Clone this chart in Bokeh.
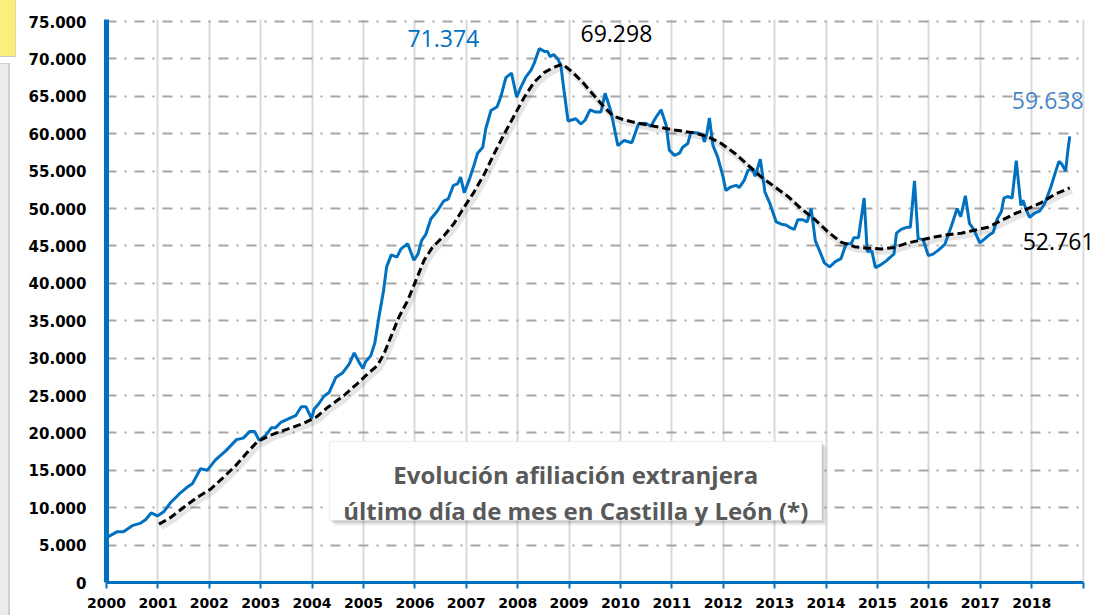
from bokeh.plotting import figure
from bokeh.layouts import row
from bokeh.models import Range1d, FixedTicker, Label, BoxAnnotation, Div
from bokeh.embed import file_html
from bokeh.resources import INLINE

# ---- data ----
# Monthly foreign affiliation, last day of month (time in fractional years)
blue_t = [2000.00, 2000.21, 2000.33, 2000.50, 2000.65, 2000.76, 2000.87, 2000.99,
          2001.12, 2001.25, 2001.41, 2001.56, 2001.67, 2001.83, 2001.96,
          2002.12, 2002.32, 2002.53, 2002.66, 2002.79, 2002.88, 2002.97,
          2003.10, 2003.21, 2003.29, 2003.39, 2003.58, 2003.68, 2003.79, 2003.88, 2003.99,
          2004.04, 2004.13, 2004.23, 2004.33, 2004.46, 2004.59, 2004.72, 2004.82, 2004.91, 2004.99,
          2005.04, 2005.14, 2005.22, 2005.30, 2005.39, 2005.45, 2005.54, 2005.65, 2005.73, 2005.86, 2005.98,
          2006.06, 2006.13, 2006.21, 2006.31, 2006.44, 2006.56, 2006.65, 2006.75, 2006.83, 2006.89, 2006.96,
          2007.06, 2007.15, 2007.22, 2007.32, 2007.38, 2007.48, 2007.60, 2007.67, 2007.77, 2007.88, 2007.98,
          2008.06, 2008.16, 2008.26, 2008.32, 2008.42, 2008.52, 2008.58, 2008.63, 2008.70, 2008.78, 2008.84,
          2008.91, 2008.98,
          2009.13, 2009.23, 2009.31, 2009.41, 2009.52, 2009.62, 2009.70, 2009.81, 2009.95,
          2010.07, 2010.22, 2010.35, 2010.49, 2010.59, 2010.69, 2010.79, 2010.89, 2010.95,
          2011.05, 2011.15, 2011.21, 2011.31, 2011.37, 2011.50, 2011.60, 2011.63, 2011.68, 2011.73,
          2011.80, 2011.89, 2011.99,
          2012.05, 2012.15, 2012.25, 2012.31, 2012.41, 2012.48, 2012.57, 2012.62, 2012.72, 2012.81, 2012.90,
          2013.03, 2013.13, 2013.22, 2013.31, 2013.38, 2013.45, 2013.55, 2013.63, 2013.71, 2013.79,
          2013.87, 2013.97,
          2014.07, 2014.18, 2014.29, 2014.39, 2014.49, 2014.54, 2014.63, 2014.74, 2014.80, 2014.89, 2014.96,
          2015.07, 2015.17, 2015.25, 2015.32, 2015.37, 2015.46, 2015.58, 2015.64, 2015.72, 2015.79,
          2015.89, 2015.99,
          2016.08, 2016.18, 2016.31, 2016.44, 2016.55, 2016.62, 2016.71, 2016.79, 2016.88, 2016.99,
          2017.08, 2017.18, 2017.25, 2017.33, 2017.41, 2017.46, 2017.53, 2017.62, 2017.70, 2017.79,
          2017.83, 2017.88, 2017.96,
          2018.06, 2018.16, 2018.25, 2018.37, 2018.45, 2018.53, 2018.59, 2018.66, 2018.70, 2018.74]
blue_v = [6000, 6800, 6800, 7600, 7900, 8400, 9300, 8900,
          9500, 10700, 11800, 12700, 13200, 15200, 15000,
          16400, 17600, 19100, 19300, 20200, 20200, 19000,
          19700, 20700, 20700, 21400, 22000, 22300, 23500, 23500, 21900,
          23200, 23900, 24900, 25400, 27400, 28000, 29200, 30700, 29500, 28600,
          29500, 30300, 32000, 35500, 39000, 42200, 43800, 43500, 44600, 45300, 43100,
          43900, 45700, 46500, 48600, 49700, 51000, 51300, 53100, 53300, 54200, 52100,
          53900, 55800, 57400, 58200, 60700, 63100, 63600, 64900, 67500, 68100, 64900,
          66200, 67600, 68500, 69400, 71374, 71000, 71000, 70300, 70600, 70000, 69100,
          65300, 61700,
          62000, 61300, 61800, 63200, 62900, 62900, 65400, 63100, 58400,
          59100, 58800, 61300, 61400, 61000, 62200, 63200, 61100, 57800,
          57100, 57400, 58200, 58700, 60200, 60100, 59800, 58900, 60000, 62100,
          58400, 56900, 54400,
          52400, 52900, 53100, 52800, 53800, 55100, 55300, 54300, 56600, 52200, 50800,
          48200, 47900, 47800, 47400, 47200, 48500, 48500, 48200, 50000, 45700,
          44400, 42700,
          42200, 42900, 43300, 45300, 45300, 46100, 46100, 51400, 44300, 44300, 42100,
          42500, 43000, 43500, 43900, 46700, 47200, 47500, 47500, 53700, 46000,
          45800, 43700,
          43900, 44400, 45200, 47700, 50000, 48900, 51700, 48000, 47100, 45400,
          45900, 46500, 46800, 48600, 49600, 51400, 51600, 51400, 56400, 50400,
          51100, 50100, 48800,
          49400, 49700, 50600, 52800, 54600, 56300, 55900, 55000, 57500, 59638]

# Trend (twelve-month average)
trend_t = [2001.02, 2001.25, 2001.51, 2001.77, 2002.03, 2002.28, 2002.51, 2002.74, 2002.93,
           2003.19, 2003.52, 2003.84, 2004.10, 2004.30, 2004.62, 2004.88, 2005.08, 2005.27,
           2005.40, 2005.53, 2005.69, 2005.86, 2006.02, 2006.18, 2006.34, 2006.57, 2006.76,
           2006.96, 2007.15, 2007.35, 2007.54, 2007.74, 2007.93, 2008.13, 2008.32, 2008.52,
           2008.71, 2008.87, 2009.07, 2009.26, 2009.46, 2009.65, 2009.85, 2010.05, 2010.28,
           2010.66, 2011.05, 2011.44, 2011.70, 2011.96, 2012.22, 2012.48, 2012.74, 2013.00,
           2013.26, 2013.51, 2013.77, 2014.03, 2014.29, 2014.55, 2014.81, 2015.07, 2015.33,
           2015.59, 2015.85, 2016.11, 2016.37, 2016.63, 2016.89, 2017.15, 2017.41, 2017.67,
           2017.93, 2018.19, 2018.45, 2018.74]
trend_v = [7800, 8700, 10100, 11400, 12500, 14100, 15600, 17400, 18800,
           19700, 20500, 21300, 22200, 23400, 25000, 26600, 27900, 29000,
           30600, 32800, 35500, 37700, 40400, 43100, 44800, 46400, 48000,
           50200, 52200, 54600, 57300, 60000, 62400, 64900, 66900, 68200,
           68900, 69298, 68200, 66900, 65300, 63800, 62400, 61900, 61500,
           61000, 60500, 60100, 59600, 58700, 57400, 55800, 54200, 52900,
           51600, 50000, 48600, 46900, 45500, 44900, 44700, 44600, 44800,
           45400, 45800, 46200, 46500, 46700, 47100, 47500, 48400, 49300,
           50000, 50800, 51900, 52761]

year_ticks = list(range(2000, 2020))
year_labels = [str(y) for y in range(2000, 2019)] + [""]
value_ticks = list(range(0, 75001, 5000))

title_lines = ["Evolución afiliación extranjera",
               "último día de mes en Castilla y León (*)"]


def fmt(v):
    return f"{int(v):,}".replace(",", ".")


value_labels = [fmt(v) for v in value_ticks]

BLUE = "#0070C0"
X_END = 2019.3   # plot area runs a little past the last year so end labels fit

p = figure(width=1081, height=615,
           x_range=Range1d(2000, X_END), y_range=Range1d(0, 75270),
           output_backend="svg", toolbar_location=None,
           min_border_left=89, min_border_right=0,
           min_border_top=19, min_border_bottom=33)
p.outline_line_color = None
p.background_fill_color = "white"
p.border_fill_color = "white"

# axes
p.xaxis.ticker = FixedTicker(ticks=year_ticks)
p.xaxis.bounds = (year_ticks[0], year_ticks[-1])
p.xaxis.major_label_overrides = {t: l for t, l in zip(year_ticks, year_labels)}
p.xaxis.axis_line_color = BLUE
p.xaxis.axis_line_width = 3
p.xaxis.major_tick_line_color = BLUE
p.xaxis.major_tick_line_width = 2
p.xaxis.major_tick_out = 6
p.xaxis.major_tick_in = 0
p.xaxis.minor_tick_line_color = None
p.xaxis.major_label_text_font = "DejaVu Sans"
p.xaxis.major_label_text_font_style = "bold"
p.xaxis.major_label_text_font_size = "14px"
p.xaxis.major_label_text_color = "black"
p.xaxis.major_label_standoff = 9

p.yaxis.ticker = FixedTicker(ticks=value_ticks)
p.yaxis.major_label_overrides = {t: l for t, l in zip(value_ticks, value_labels)}
p.yaxis.axis_line_color = BLUE
p.yaxis.axis_line_width = 5
p.yaxis.major_tick_line_color = None
p.yaxis.minor_tick_line_color = None
p.yaxis.major_tick_out = 0
p.yaxis.major_tick_in = 0
p.yaxis.major_label_text_font = "DejaVu Sans"
p.yaxis.major_label_text_font_style = "bold"
p.yaxis.major_label_text_font_size = "15px"
p.yaxis.major_label_text_color = "black"
p.yaxis.major_label_standoff = 20

# grids
p.xgrid.ticker = FixedTicker(ticks=year_ticks)
p.xgrid.grid_line_color = "#d9d9d9"
p.xgrid.grid_line_width = 2
p.ygrid.ticker = FixedTicker(ticks=value_ticks)
p.ygrid.grid_line_color = "#a6a6a6"
p.ygrid.grid_line_width = 2
p.ygrid.grid_line_dash = "10 8 2 8"

# blank strip right of the last year line (grid ends at the last tick)
p.add_layout(BoxAnnotation(left=year_ticks[-1] + 0.03, right=X_END + 1,
                           bottom=-5000, top=90000,
                           fill_color="white", fill_alpha=1.0, line_color=None))

# lines
shadow_t = [t + 0.04 for t in trend_t]
shadow_v = [v - 380 for v in trend_v]
p.line(shadow_t, shadow_v, line_color="black", line_alpha=0.10, line_width=6)
p.line(blue_t, blue_v, line_color=BLUE, line_width=3)
p.line(trend_t, trend_v, line_color="black", line_width=3, line_dash="8 4")

# value annotations
ib = blue_v.index(max(blue_v))
it = trend_v.index(max(trend_v))
p.add_layout(Label(x=blue_t[ib], y=blue_v[ib], text=fmt(blue_v[ib]),
                   x_offset=-96, y_offset=10, text_align="center", text_baseline="middle",
                   text_font="Open Sans", text_font_size="23px", text_color=BLUE))
p.add_layout(Label(x=trend_t[it], y=trend_v[it], text=fmt(trend_v[it]),
                   x_offset=54, y_offset=31, text_align="center", text_baseline="middle",
                   text_font="Open Sans", text_font_size="23px", text_color="black"))
p.add_layout(Label(x=blue_t[-1], y=blue_v[-1], text=fmt(blue_v[-1]),
                   x_offset=-22, y_offset=36, text_align="center", text_baseline="middle",
                   text_font="Open Sans", text_font_size="23px", text_color="#4a86c8"))
p.add_layout(Label(x=trend_t[-1], y=trend_v[-1], text=fmt(trend_v[-1]),
                   x_offset=-47, y_offset=-54, text_align="left", text_baseline="middle",
                   text_font="Open Sans", text_font_size="23px", text_color="black"))

# title box
box_l, box_r, box_b, box_t = 2004.34, 2013.92, 8290, 18850
for k, a in [(1, 0.10), (2, 0.08), (3, 0.06)]:
    p.add_layout(BoxAnnotation(left=box_l + 0.03 * k, right=box_r + 0.03 * k,
                               bottom=box_b - 220 * k, top=box_t - 220 * k,
                               fill_color="black", fill_alpha=a, line_color=None))
p.add_layout(BoxAnnotation(left=box_l, right=box_r, bottom=box_b, top=box_t,
                           fill_color="white", fill_alpha=1.0,
                           line_color="#d0d0d0", line_width=1.5))
cx = (box_l + box_r) / 2
for txt, yb in zip(title_lines, [14440, 9630]):
    p.add_layout(Label(x=cx, y=yb, text=txt, text_align="center", text_baseline="alphabetic",
                       text_font="Open Sans", text_font_style="bold", text_font_size="24px",
                       text_color="#595959"))

# narrow strip at the far left: yellow note tab and grey panel edge of the page
deco_html = (
    '<div style="width:16px;height:57px;background:#fbee7c;'
    'border-bottom:1px solid #c9c9c9;border-right:1px solid #e0d890"></div>'
    '<div style="height:6px"></div>'
    '<div style="width:10px;height:552px;background:#ececec;'
    'border-top:1px solid #d0d0d0;border-right:2px solid #cfcfcf"></div>'
)
deco = Div(text=deco_html, width=17, height=615, margin=0)

layout = row(deco, p, spacing=0)
open("out.html", "w").write(file_html(layout, INLINE))
